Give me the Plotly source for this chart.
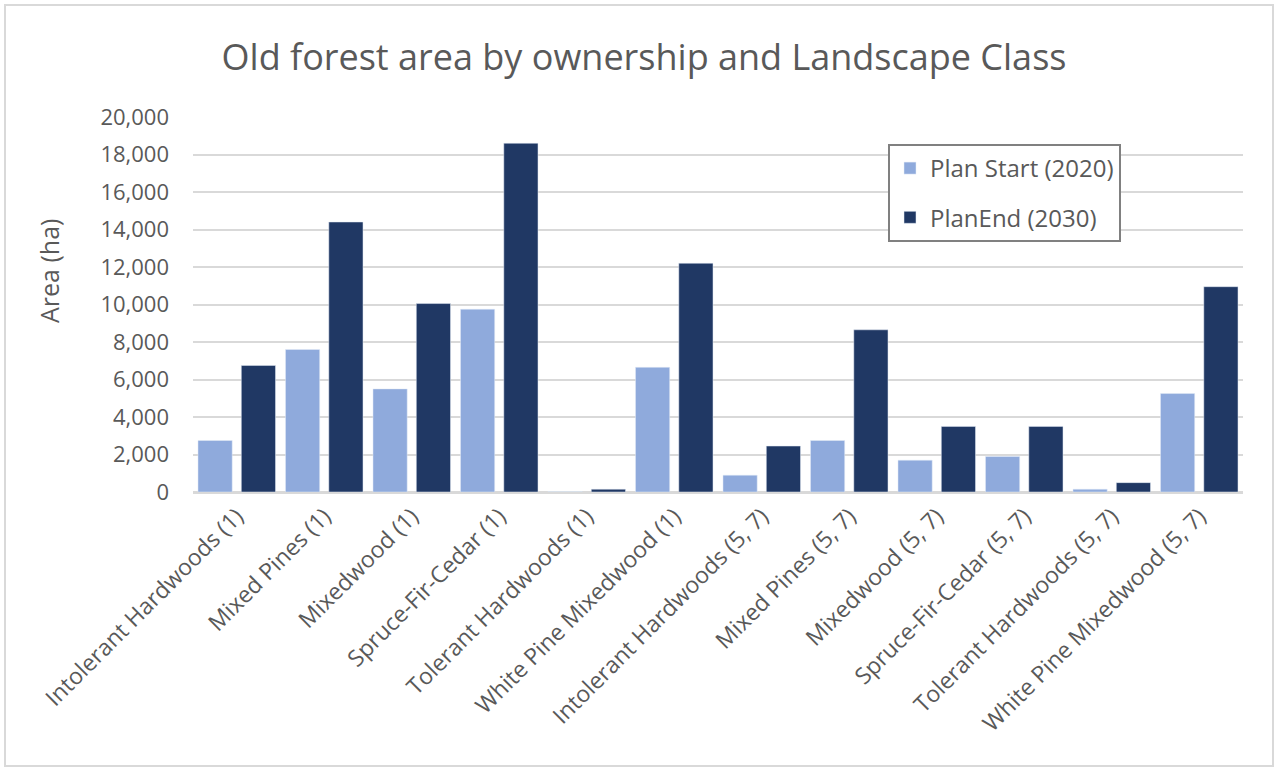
import plotly.graph_objects as go

categories = [
    "Intolerant Hardwoods (1)", "Mixed Pines (1)", "Mixedwood (1)", "Spruce-Fir-Cedar (1)",
    "Tolerant Hardwoods (1)", "White Pine Mixedwood (1)", "Intolerant Hardwoods (5, 7)",
    "Mixed Pines (5, 7)", "Mixedwood (5, 7)", "Spruce-Fir-Cedar (5, 7)",
    "Tolerant Hardwoods (5, 7)", "White Pine Mixedwood (5, 7)",
]
plan_start_2020 = [2750, 7600, 5500, 9750, 20, 6650, 900, 2750, 1700, 1900, 150, 5250]
plan_end_2030 = [6750, 14400, 10050, 18600, 150, 12200, 2450, 8650, 3500, 3500, 500, 10950]
y_ticks = [0, 2000, 4000, 6000, 8000, 10000, 12000, 14000, 16000, 18000, 20000]

W, H = 1278, 771
L, R, T, B = 193, 1243, 117, 492
FONT = "Open Sans"
TXT = "#595959"

fig = go.Figure()
fig.add_trace(go.Bar(name="Plan Start (2020)", x=categories, y=plan_start_2020,
                     marker=dict(color="#8FAADC"), legendgroup="a"))
fig.add_trace(go.Bar(name="PlanEnd (2030)", x=categories, y=plan_end_2030,
                     marker=dict(color="#203864"), legendgroup="b"))

def px_x(p):
    return (p - L) / (R - L)

def px_y(p):
    return (B - p) / (B - T)

fig.update_layout(
    width=W, height=H,
    margin=dict(l=L, r=W - R, t=T, b=H - B, autoexpand=False),
    paper_bgcolor="white", plot_bgcolor="white",
    font=dict(family=FONT, color=TXT),
    title=dict(text="Old forest area by ownership and Landscape Class",
               x=(644) / W, xanchor="center", y=1 - 57 / H, yanchor="middle",
               font=dict(size=36, color=TXT, family=FONT)),
    barmode="group", bargap=0.01, bargroupgap=0.21,
    legend=dict(x=px_x(888), y=px_y(144), xanchor="left", yanchor="top",
                bordercolor="#808080", borderwidth=2, bgcolor="white",
                font=dict(size=24, color=TXT), traceorder="grouped",
                tracegroupgap=15, itemwidth=30),
    showlegend=True,
    xaxis=dict(tickangle=-45, tickfont=dict(size=23, color=TXT),
               showgrid=False, showline=True, linecolor="#d9d9d9", linewidth=1.5,
               ticks="", range=[-0.5, len(categories) - 0.5]),
    yaxis=dict(range=[0, 20000], tickvals=y_ticks, tickformat=",d",
               tickfont=dict(size=22, color=TXT), showgrid=True,
               gridcolor="#d9d9d9", gridwidth=1.5, zeroline=True,
               zerolinecolor="#d9d9d9", zerolinewidth=1.5, ticks="",
               ticklabelstandoff=23),
    annotations=[dict(text="Area (ha)", xref="paper", yref="paper",
                      x=px_x(49), y=px_y(271), xanchor="center", yanchor="middle",
                      textangle=-90, showarrow=False,
                      font=dict(size=25, color=TXT, family=FONT))],
    shapes=[dict(type="rect", xref="paper", yref="paper",
                 x0=px_x(5), x1=px_x(1273), y0=px_y(766), y1=px_y(5),
                 line=dict(color="#d9d9d9", width=2), fillcolor="rgba(0,0,0,0)",
                 layer="below")],
)

fig.write_html("out.html")
